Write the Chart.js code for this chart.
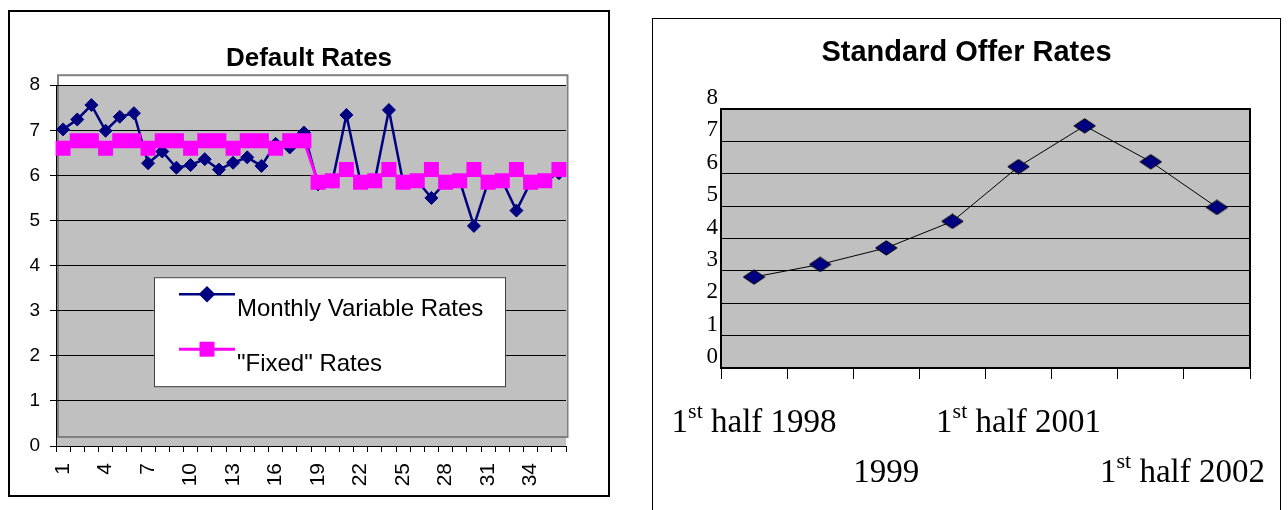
<!DOCTYPE html>
<html><head><meta charset="utf-8">
<script src="https://cdn.jsdelivr.net/npm/chart.js@4.4.1/dist/chart.umd.min.js"></script>
<style>
html,body{margin:0;padding:0;background:#fff;width:1288px;height:510px;overflow:hidden;}
#box1{position:absolute;left:8px;top:10px;width:598px;height:483px;border:2px solid #000;}
#box2{position:absolute;left:652px;top:18px;width:627px;height:500px;border:1px solid #000;border-bottom:none;}
canvas{display:block;}
</style></head><body>
<div id="box1"><canvas id="c1" width="598" height="483"></canvas></div>
<div id="box2"><canvas id="c2" width="627" height="491"></canvas></div>
<script>
// ---- Data: Default Rates ----
const monthLabels = ['1','2','3','4','5','6','7','8','9','10','11','12','13','14','15','16','17','18',
  '19','20','21','22','23','24','25','26','27','28','29','30','31','32','33','34','35','36'];
const variableRates = [7.02,7.24,7.56,6.99,7.30,7.38,6.27,6.53,6.17,6.23,6.36,6.13,6.28,6.40,6.21,6.70,6.62,6.95,
  5.80,5.86,7.34,5.85,5.88,7.45,5.85,5.88,5.50,5.85,5.88,4.88,5.85,5.88,5.22,5.85,5.88,6.05];
const fixedRates = [6.60,6.77,6.77,6.60,6.77,6.77,6.60,6.77,6.77,6.60,6.77,6.77,6.60,6.77,6.77,6.60,6.77,6.77,
  5.85,5.88,6.13,5.85,5.88,6.13,5.85,5.88,6.13,5.85,5.88,6.13,5.85,5.88,6.13,5.85,5.88,6.13];
const seriesNames = ['Monthly Variable Rates', '"Fixed" Rates'];
const defaultTitle = 'Default Rates';

// ---- Data: Standard Offer Rates ----
const periodLabels = ['1st half 1998','2nd half 1998','1999','2000','1st half 2001','2nd half 2001','1st half 2002','2nd half 2002'];
const standardOfferRates = [2.81,3.20,3.71,4.53,6.22,7.48,6.37,4.96];
const offerTitle = 'Standard Offer Rates';

const SANS = '"Liberation Sans", Arial, sans-serif';
const SERIF = '"Liberation Serif", "Times New Roman", serif';

// ---------- Left chart ----------
const leftBg = {
  id: 'leftBg',
  beforeDraw(chart) {
    const {ctx, chartArea: a} = chart;
    ctx.save();
    ctx.fillStyle = '#c0c0c0';
    ctx.fillRect(a.left, a.top, a.right - a.left, a.bottom - a.top);
    ctx.strokeStyle = '#808080';
    ctx.lineWidth = 2;
    ctx.strokeRect(a.left + 2, a.top - 10, a.right - a.left - 0.5, a.bottom - a.top + 1);
    ctx.restore();
  }
};
const leftLegend = {
  id: 'leftLegend',
  afterDraw(chart) {
    const {ctx, chartArea: a} = chart;
    const bx = a.left + 98, by = a.top + 192, bw = 351, bh = 109;
    ctx.save();
    ctx.fillStyle = '#fff';
    ctx.fillRect(bx, by, bw, bh);
    ctx.strokeStyle = '#404040';
    ctx.lineWidth = 1;
    ctx.strokeRect(bx + 0.5, by + 0.5, bw, bh);
    const rows = [{line: 17, base: 39}, {line: 72, base: 94}];
    chart.data.datasets.forEach((ds, i) => {
      const ly = by + rows[i].line;
      ctx.strokeStyle = ds.borderColor;
      ctx.lineWidth = ds.borderWidth;
      ctx.beginPath();
      ctx.moveTo(bx + 25, ly);
      ctx.lineTo(bx + 81, ly);
      ctx.stroke();
      ctx.fillStyle = ds.pointBackgroundColor;
      ctx.strokeStyle = ds.pointBorderColor;
      Chart.helpers.drawPoint(ctx, {pointStyle: ds.pointStyle, radius: ds.pointRadius, rotation: 0, borderWidth: ds.pointBorderWidth}, bx + 53, ly);
      ctx.fillStyle = '#000';
      ctx.font = '24px ' + SANS;
      ctx.textBaseline = 'alphabetic';
      ctx.textAlign = 'left';
      ctx.fillText(ds.label, bx + 83, by + rows[i].base);
    });
    ctx.restore();
  }
};

new Chart(document.getElementById('c1'), {
  type: 'line',
  data: {
    labels: monthLabels,
    datasets: [
      {label: seriesNames[0], data: variableRates, borderColor: '#000080', borderWidth: 2.5,
       pointStyle: 'rectRot', pointRadius: 6.5, pointBackgroundColor: '#000080', pointBorderColor: '#000080',
       pointBorderWidth: 1, tension: 0, order: 2},
      {label: seriesNames[1], data: fixedRates, borderColor: '#ff00ff', borderWidth: 3,
       pointStyle: 'rect', pointRadius: 10.6, pointBackgroundColor: '#ff00ff', pointBorderColor: '#ff00ff',
       pointBorderWidth: 0, tension: 0, order: 1}
    ]
  },
  options: {
    responsive: false, animation: false, devicePixelRatio: 1,
    layout: {padding: 0},
    scales: {
      x: {
        offset: true,
        grid: {offset: true, drawOnChartArea: false, color: '#000', tickLength: 6},
        border: {color: '#000', width: 1},
        ticks: {autoSkip: false, maxRotation: 90, minRotation: 90, padding: 11, color: '#000',
          font: {family: SANS, size: 21},
          callback: (v, i) => (i % 3 === 0 ? monthLabels[i] : '')},
        afterFit: s => { s.height = 49; }
      },
      y: {
        min: 0, max: 8,
        grid: {color: '#000', tickLength: 6, lineWidth: 1},
        border: {color: '#000', width: 1},
        ticks: {stepSize: 1, padding: 10, color: '#000', font: {family: SANS, size: 19}},
        afterFit: s => { s.width = 46; }
      },
      yRightSpace: {
        type: 'linear', position: 'right', min: 0, max: 8,
        grid: {drawOnChartArea: false, drawTicks: false},
        border: {display: false},
        ticks: {display: false},
        afterFit: s => { s.width = 42; }
      }
    },
    plugins: {
      legend: {display: false},
      tooltip: {enabled: false},
      title: {display: true, text: defaultTitle, color: '#000',
        font: {family: SANS, size: 26, weight: 'bold'}, padding: {top: 31, bottom: 11}}
    }
  },
  plugins: [leftBg, leftLegend]
});

// ---------- Right chart ----------
const diamond = document.createElement('canvas');
diamond.width = 23; diamond.height = 16;
(function () {
  const d = diamond.getContext('2d');
  d.beginPath();
  d.moveTo(11.5, 0.8); d.lineTo(22.2, 8); d.lineTo(11.5, 15.2); d.lineTo(0.8, 8); d.closePath();
  d.fillStyle = '#000080'; d.fill();
  d.strokeStyle = '#000'; d.lineWidth = 1; d.stroke();
})();

const rightBg = {
  id: 'rightBg',
  beforeDraw(chart) {
    const {ctx, chartArea: a} = chart;
    ctx.save();
    ctx.fillStyle = '#c0c0c0';
    ctx.fillRect(a.left, a.top, a.right - a.left, a.bottom - a.top);
    ctx.restore();
  },
  beforeDatasetsDraw(chart) {
    const {ctx, chartArea: a} = chart;
    ctx.save();
    ctx.strokeStyle = '#000';
    ctx.lineWidth = 2;
    ctx.strokeRect(a.left, a.top, a.right - a.left, a.bottom - a.top);
    ctx.restore();
  }
};
const rightXLabels = {
  id: 'rightXLabels',
  afterDraw(chart) {
    const {ctx, chartArea: a} = chart;
    const xs = chart.scales.x;
    const labels = chart.data.labels;
    const shown = labels.map((l, i) => i).filter(i => i % 2 === 0);
    ctx.save();
    ctx.fillStyle = '#000';
    ctx.textBaseline = 'alphabetic';
    ctx.textAlign = 'left';
    const mainF = '33px ' + SERIF, supF = '22px ' + SERIF;
    shown.forEach((i, k) => {
      const txt = labels[i];
      const m = txt.match(/^(\d+)(st|nd|rd|th)(.*)$/);
      let parts;
      if (m) parts = [[m[1], mainF, 0], [m[2], supF, -14], [m[3], mainF, 0]];
      else parts = [[txt, mainF, 0]];
      let total = 0;
      parts.forEach(p => { ctx.font = p[1]; p.push(ctx.measureText(p[0]).width); total += p[3]; });
      const base = a.bottom + (k % 2 === 0 ? 64 : 114);
      let x = xs.getPixelForValue(i) - total / 2;
      if (k === shown.length - 1) x = chart.width - 15 - total;
      parts.forEach(p => { ctx.font = p[1]; ctx.fillText(p[0], x, base + p[2]); x += p[3]; });
    });
    ctx.restore();
  }
};

new Chart(document.getElementById('c2'), {
  type: 'line',
  data: {
    labels: periodLabels,
    datasets: [{label: offerTitle, data: standardOfferRates, borderColor: '#000', borderWidth: 1,
      pointStyle: diamond, pointRadius: 8, tension: 0}]
  },
  options: {
    responsive: false, animation: false, devicePixelRatio: 1,
    layout: {padding: 0},
    scales: {
      x: {
        offset: true,
        grid: {offset: true, drawOnChartArea: false, color: '#000', tickLength: 11},
        border: {color: '#000', width: 2},
        ticks: {display: false},
        afterFit: s => { s.height = 142; }
      },
      y: {
        min: 0, max: 8,
        grid: {color: '#000', drawTicks: false, lineWidth: 1},
        border: {color: '#000', width: 1},
        ticks: {stepSize: 1, padding: 3, labelOffset: -11, color: '#000', font: {family: SERIF, size: 23}},
        afterFit: s => { s.width = 68; }
      },
      yRightSpace: {
        type: 'linear', position: 'right', min: 0, max: 8,
        grid: {drawOnChartArea: false, drawTicks: false},
        border: {display: false},
        ticks: {display: false},
        afterFit: s => { s.width = 30; }
      }
    },
    plugins: {
      legend: {display: false},
      tooltip: {enabled: false},
      title: {display: true, text: offerTitle, color: '#000',
        font: {family: SANS, size: 29, weight: 'bold'}, padding: {top: 17, bottom: 38.2}}
    }
  },
  plugins: [rightBg, rightXLabels]
});
</script>
</body></html>
